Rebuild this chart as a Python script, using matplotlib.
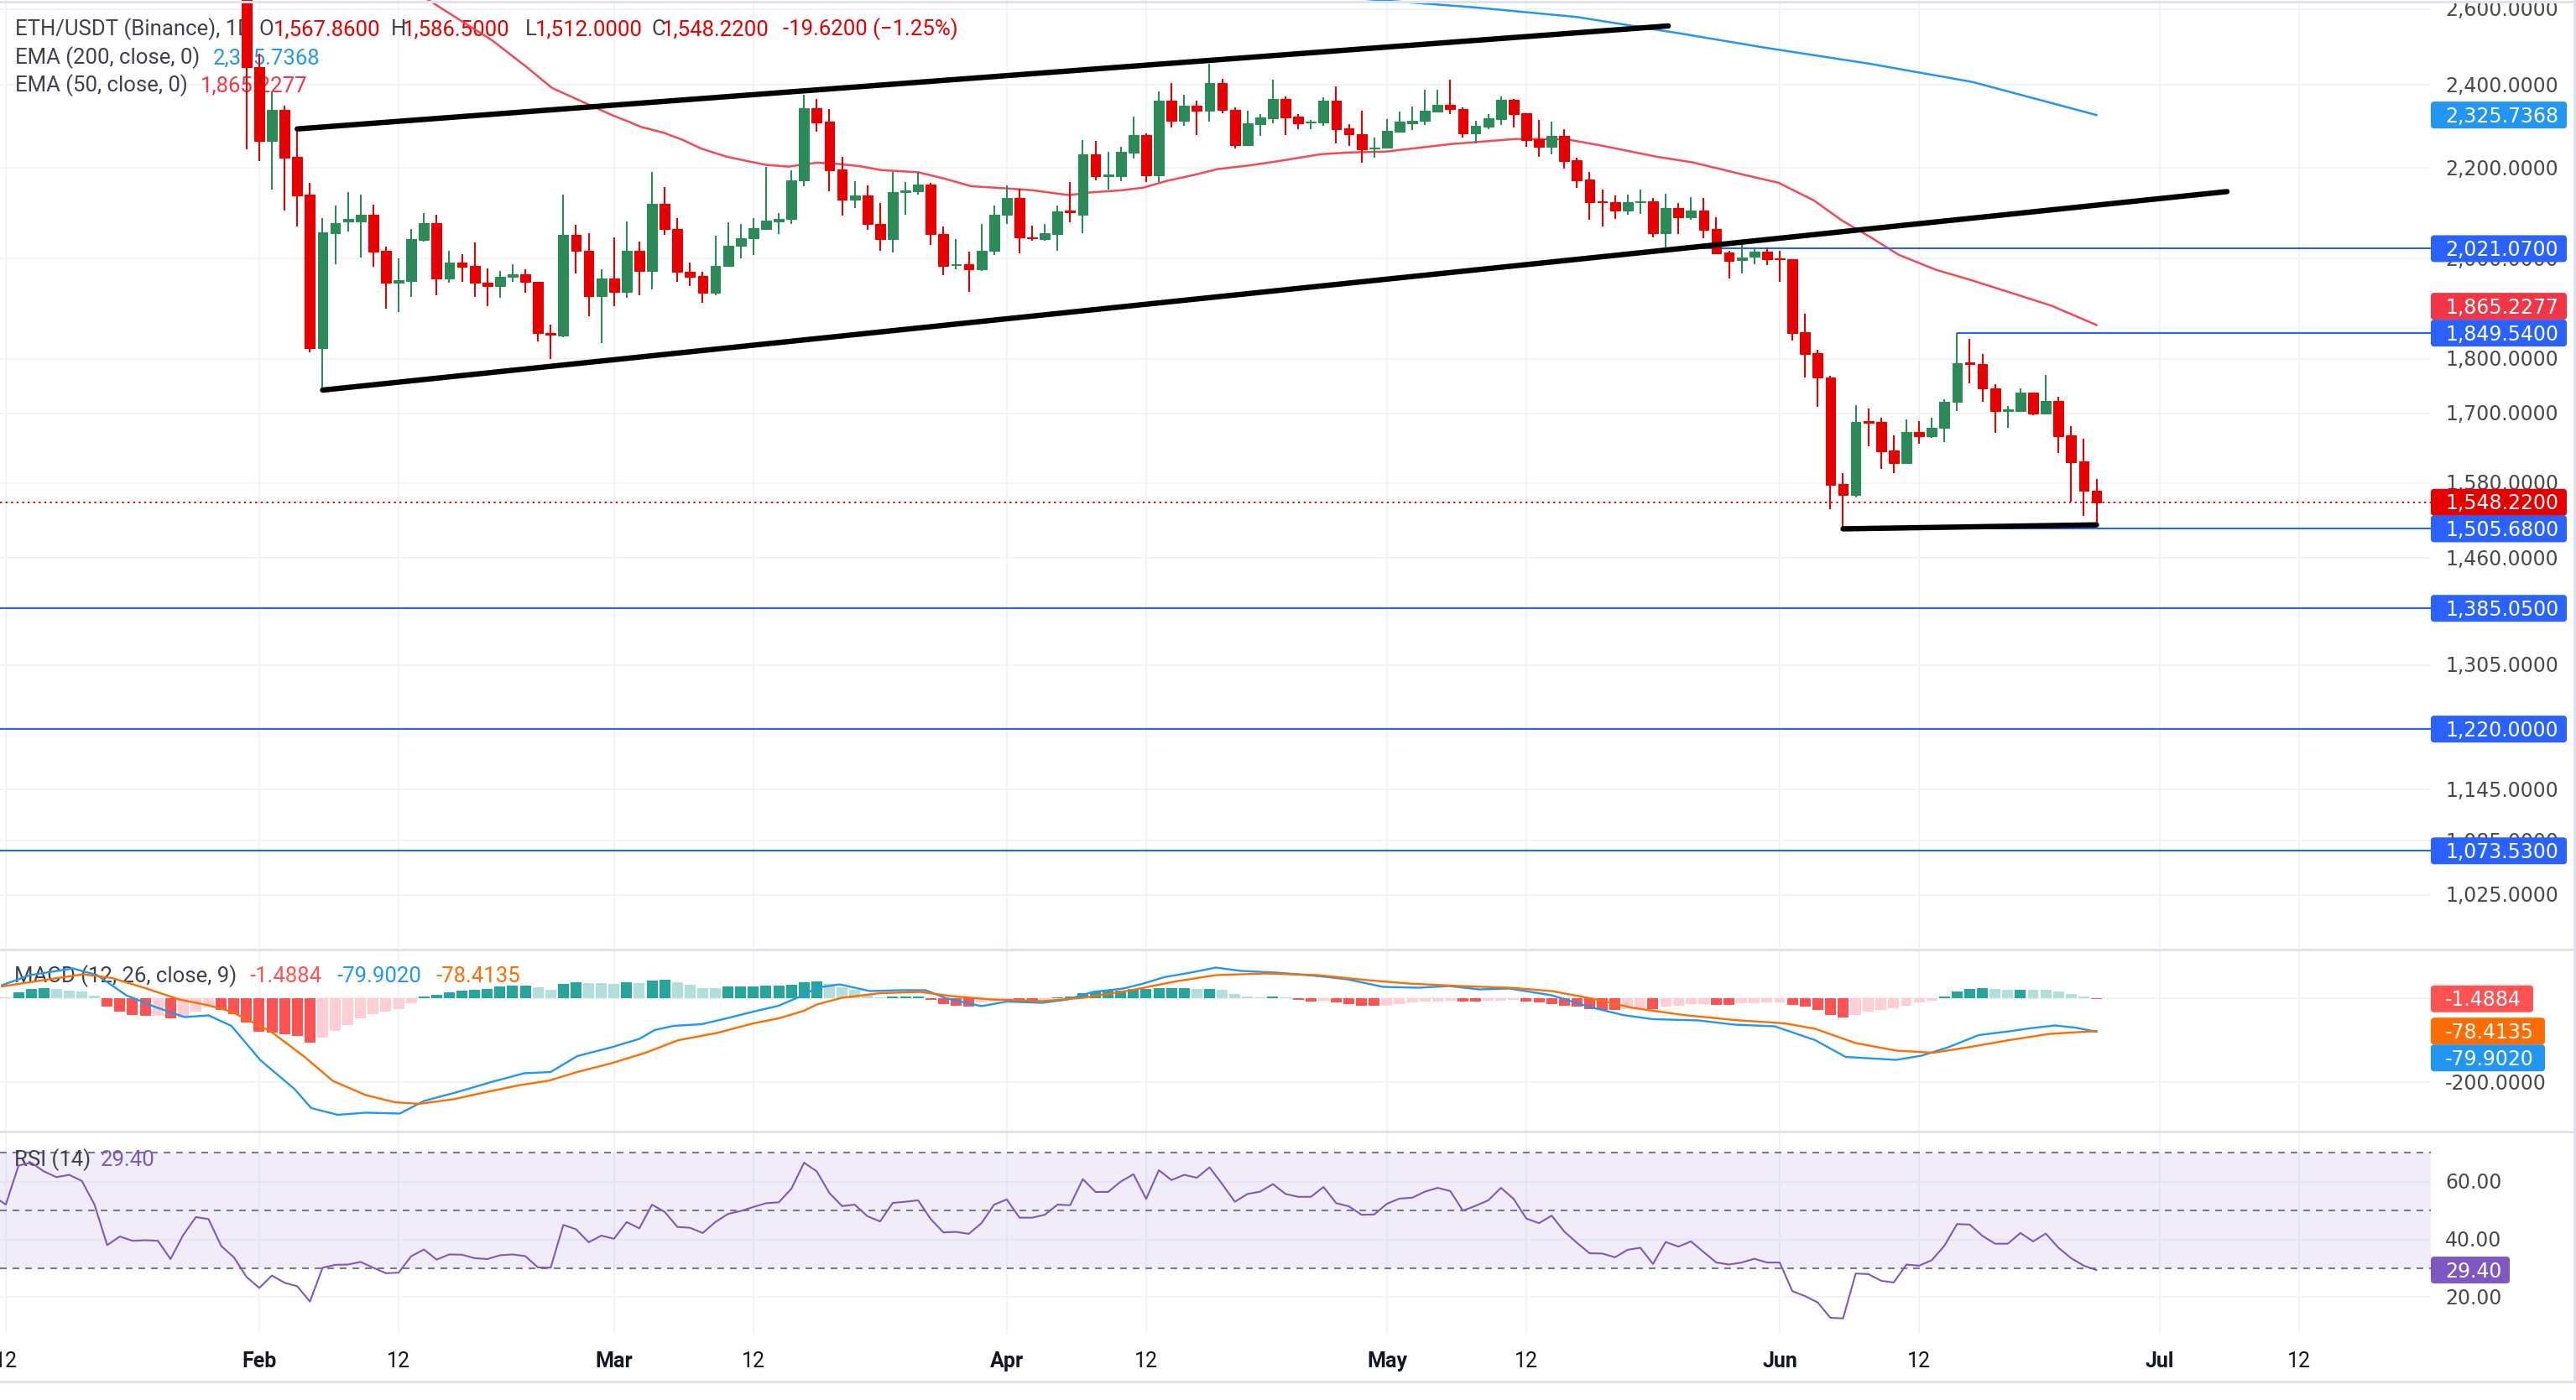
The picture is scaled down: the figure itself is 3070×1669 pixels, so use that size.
import numpy as np
import matplotlib
matplotlib.use("Agg")
import matplotlib.pyplot as plt
from matplotlib.patches import FancyBboxPatch
from matplotlib.lines import Line2D
from matplotlib.transforms import IdentityTransform

W, H, DPI = 3070, 1669, 100
PLOT_RIGHT = 2897  # px where the price scale begins

# ---------------- data (day index: Jan 1 = 0) ----------------
first_day = 30
opens = [2690, 2445, 2263, 2338, 2225, 2140, 1821, 2055, 2080, 2079,
         2095, 2017, 1950, 1954, 2039, 2076, 1959, 1991, 1984, 1950,
         1943, 1962, 1968, 1952, 1850, 1845, 2051, 2017, 1923, 1958,
         1931, 2016, 1975, 2119, 2064, 1972, 1964, 1930, 1985, 2027,
         2043, 2064, 2080, 2085, 2172, 2343, 2309, 2196, 2127, 2138,
         2075, 2041, 2144, 2146, 2161, 2053, 1986, 1988, 1977, 2016,
         2094, 2132, 2046, 2041, 2053, 2104, 2095, 2231, 2181, 2181,
         2235, 2277, 2183, 2361, 2312, 2348, 2337, 2406, 2339, 2253,
         2303, 2318, 2365, 2321, 2307, 2308, 2361, 2293, 2279, 2245,
         2247, 2286, 2305, 2311, 2334, 2351, 2340, 2282, 2297, 2316,
         2363, 2330, 2267, 2250, 2275, 2217, 2173, 2124, 2122, 2103,
         2122, 2124, 2054, 2109, 2089, 2103, 2063, 2013, 1997, 2004,
         2014, 2000, 1999, 1851, 1811, 1766, 1578, 1561, 1686, 1685,
         1635, 1614, 1667, 1659, 1674, 1720, 1794, 1791, 1745, 1704,
         1704, 1737, 1700, 1722, 1661, 1616, 1567.86]
highs = [2740, 2480, 2385, 2349, 2290, 2166, 2087, 2114, 2144, 2140,
         2116, 2025, 2000, 2063, 2098, 2094, 2017, 2010, 2035, 1980,
         1975, 1988, 1977, 1952, 1866, 2140, 2072, 2054, 1977, 2046,
         2080, 2036, 2191, 2156, 2087, 1991, 1973, 2048, 2078, 2074,
         2087, 2202, 2098, 2195, 2376, 2366, 2340, 2226, 2169, 2160,
         2120, 2191, 2167, 2191, 2166, 2068, 2041, 2014, 2074, 2114,
         2160, 2152, 2070, 2074, 2114, 2167, 2265, 2263, 2237, 2249,
         2322, 2281, 2385, 2405, 2376, 2361, 2454, 2415, 2344, 2336,
         2328, 2413, 2372, 2328, 2314, 2370, 2396, 2303, 2336, 2271,
         2316, 2334, 2346, 2389, 2389, 2413, 2344, 2312, 2328, 2372,
         2366, 2330, 2314, 2310, 2291, 2224, 2191, 2150, 2138, 2140,
         2150, 2132, 2142, 2120, 2134, 2132, 2088, 2016, 2035, 2021,
         2024, 2016, 1999, 1888, 1817, 1768, 1597, 1715, 1708, 1692,
         1661, 1689, 1686, 1692, 1726, 1849.54, 1838, 1810, 1753, 1713,
         1745, 1737, 1770, 1730, 1678, 1655, 1586.5]
lows = [2243, 2215, 2150, 2103, 2068, 1813, 1742, 1988, 2058, 2003,
        1983, 1898, 1891, 1921, 2036, 1924, 1950, 1951, 1921, 1902,
        1920, 1951, 1930, 1833, 1800, 1842, 1969, 1882, 1831, 1902,
        1919, 1924, 1937, 2050, 1951, 1943, 1910, 1924, 1985, 2001,
        2007, 2061, 2052, 2074, 2158, 2285, 2147, 2092, 2109, 2061,
        2017, 2013, 2095, 2139, 2029, 1965, 1977, 1932, 1974, 2007,
        2074, 2012, 2038, 2038, 2016, 2077, 2054, 2172, 2151, 2170,
        2222, 2168, 2168, 2295, 2299, 2277, 2309, 2331, 2246, 2251,
        2275, 2305, 2277, 2291, 2292, 2299, 2257, 2251, 2212, 2224,
        2247, 2286, 2289, 2301, 2334, 2328, 2272, 2258, 2291, 2302,
        2295, 2250, 2226, 2232, 2199, 2154, 2083, 2068, 2085, 2095,
        2096, 2046, 2021.07, 2053, 2083, 2044, 2010, 1958, 1969, 1988,
        1987, 1951, 1835, 1765, 1712, 1537, 1505.68, 1556, 1642, 1603,
        1596, 1614, 1647, 1656, 1650, 1704, 1754, 1720, 1665, 1674,
        1704, 1697, 1700, 1631, 1549, 1527, 1512]
closes = [2445, 2263, 2338, 2224, 2138, 1821, 2056, 2076, 2085, 2095,
          2015, 1950, 1956, 2041, 2076, 1959, 1991, 1983, 1950, 1943,
          1962, 1968, 1951, 1849, 1846, 2051, 2017, 1923, 1958, 1931,
          2016, 1975, 2119, 2063, 1972, 1963, 1930, 1985, 2028, 2044,
          2065, 2082, 2086, 2172, 2343, 2308, 2195, 2127, 2138, 2074,
          2041, 2144, 2148, 2161, 2053, 1984, 1989, 1977, 2016, 2094,
          2132, 2045, 2044, 2054, 2102, 2100, 2231, 2181, 2184, 2237,
          2277, 2183, 2361, 2312, 2348, 2337, 2406, 2338, 2254, 2305,
          2320, 2365, 2320, 2305, 2310, 2361, 2292, 2279, 2244, 2248,
          2287, 2309, 2312, 2336, 2351, 2340, 2282, 2299, 2317, 2363,
          2328, 2266, 2250, 2275, 2216, 2172, 2122, 2122, 2103, 2122,
          2125, 2054, 2109, 2089, 2103, 2062, 2012, 1996, 2002, 2014,
          1998, 1998, 1850, 1810, 1765, 1577, 1561, 1685, 1683, 1634,
          1614, 1667, 1659, 1675, 1720, 1792, 1790, 1745, 1704, 1707,
          1737, 1700, 1722, 1660, 1615, 1567.84, 1548.22]

ema50_days = [44.1, 49.4, 52.1, 54.1, 58.8, 60.2, 61.1, 62.9, 64.4, 65.9,
              67.9, 69.5, 71, 72.8, 73.7, 75, 76.4, 78.4, 80.1, 83,
              85, 87.2, 90.1, 92, 94.9, 96.6, 99.1, 100.8, 102.6, 104.8,
              106.6, 109.2, 111.5, 114.8, 117, 119.9, 125.1, 130.2, 134.2, 136.8,
              141.3, 144.1, 146.8, 148.2, 150.9, 153.7, 155.9, 158.2, 160.4, 163.3,
              165.9, 169.2, 172.5, 176]
ema50 = [2630, 2515, 2446, 2393, 2326, 2309, 2297, 2283, 2266, 2245,
         2226, 2216, 2207, 2203, 2207, 2212, 2210, 2204, 2195, 2190,
         2176, 2158, 2153, 2149, 2138, 2144, 2149, 2155, 2170, 2184,
         2197, 2206, 2216, 2232, 2236, 2238, 2256, 2268, 2267, 2253,
         2226, 2213, 2194, 2184, 2166, 2126, 2082, 2045, 2008, 1977,
         1957, 1930, 1903, 1865.2277]
ema200_days = [118, 127, 135, 143.3, 149.7, 158, 166.2, 176]
ema200 = [2628, 2604, 2578, 2533, 2497, 2455, 2408, 2325.7368]

upper_days, upper_vals = [34.0, 142.2], [2292, 2554]
lower_days, lower_vals = [36.0, 186.3], [1742, 2146]
floor_days, floor_vals = [156, 176], [1505.68, 1512.0]

levels = [2021.07, 1849.54, 1505.68, 1385.05, 1220.0, 1073.53]
level_from = [142, 165, 156, None, None, None]

macd_days = [10.7, 12.9, 16.3, 18.2, 20.5, 22.8, 25.1, 27, 28.8, 31.1,
             33.8, 35.1, 37.2, 39.4, 42.1, 44, 46.6, 49.3, 51.9, 54,
             56.1, 58.8, 61, 62.2, 63.7, 65.9, 67.9, 70, 72, 74,
             75, 76.8, 79.2, 81.6, 83.6, 85.2, 88, 90, 92.8, 94.8,
             96.8, 99.2, 100.8, 102.4, 104.5, 106.5, 108.5, 111.3, 114.5, 116.9,
             119.7, 122.5, 124.9, 127.3, 129.7, 133, 135.8, 138.6, 141, 144.6,
             147.4, 150.6, 153.8, 156.2, 160.2, 162.2, 164.3, 166.7, 169.1, 170.7,
             172.7, 174.3, 176]
macd = [31, 55, 71, 55, 7, -21, -45, -41, -66, -148,
        -217, -262, -278, -273, -275, -245, -224, -200, -179, -176,
        -138, -117, -97, -76, -66, -62, -48, -32, -18, 8,
        25, 33, 17, 19, 19, 0, -19, -8, -11, -3,
        15, 23, 35, 50, 61, 73, 65, 61, 53, 45,
        27, 25, 29, 21, 23, 7, -19, -40, -50, -53,
        -63, -67, -100, -140, -147, -137, -117, -88, -79, -72,
        -65, -70, -79.902]
signal_days = [10.7, 14.4, 17.1, 19.4, 22, 24.7, 27, 28.8, 31.9, 34.5,
               36.8, 39.4, 41.7, 43.6, 46.3, 48.9, 51.6, 53.8, 56.1, 58.8,
               61.4, 64.1, 67.1, 70, 72, 74, 75, 77, 80, 83.2,
               85.6, 88.8, 92.8, 96, 100, 103.3, 106.5, 110.5, 114.5, 118.5,
               121.7, 125.7, 129.7, 133, 136.2, 139.4, 143.4, 147.4, 151.4, 153.8,
               157, 160.2, 163.1, 165.9, 169.1, 172.3, 176]
signal = [28, 45, 57, 48, 24, -3, -17, -32, -79, -138,
          -197, -231, -248, -252, -241, -224, -207, -197, -176, -155,
          -131, -100, -83, -60, -48, -30, -15, 1, 12, 15,
          5, -3, -7, 1, 20, 40, 55, 59, 55, 43,
          35, 29, 25, 17, -1, -23, -40, -52, -60, -73,
          -107, -125, -130, -117, -100, -85, -78.4135]
hist_first = 11
hist = [2, 15, 22, 24, 22, 19, 16, 7, -19, -31,
        -39, -41, -41, -48, -45, -31, -21, -28, -38, -57,
        -79, -81, -85, -90, -106, -93, -78, -64, -47, -38,
        -32, -26, -12, 5, 8, 14, 19, 20, 22, 28,
        30, 30.5, 26, 21, 35, 39, 37, 36.5, 35, 38,
        37, 43, 43.5, 38, 32, 25, 24, 28, 28.5, 29,
        29.5, 30, 33, 38, 40, 34, 27, 21, 8, 3,
        3.5, 4, 4.5, -3, -13, -18, -20, -10, -8, -5,
        -7, -7.5, -3, 2, 4, 12, 17, 18, 18.5, 22,
        23, 23.2, 23.4, 23.6, 22, 23, 20, 10, 5, 2,
        4, 2, -3, -7, -5, -9, -13, -17, -18, -17,
        -13, -10, -8, -7, -5, -7, -7.5, -5, -5, -3,
        -7, -10, -13, -17, -20, -25, -27, -27.5, -25, -23,
        -25, -19, -17, -13, -13, -15, -15.5, -12, -11, -10,
        -10, -15, -20, -27, -40, -45, -40, -32, -27, -23,
        -17, -10, -5, 5, 17, 23, 25, 23, 20, 21,
        20, 19.5, 17, 10, 5, -1.4884]

rsi_first = 10
rsi = [55, 52, 65.5, 66.5, 63.5, 61.5, 62.3, 60.2, 52, 38,
       41, 39.5, 39.7, 39.5, 33.2, 41.5, 47.7, 47, 37.7, 33.8,
       27, 23.2, 27.5, 25, 23.8, 18.5, 30.2, 31.2, 31.3, 32.2,
       30.2, 28.3, 28.5, 34.2, 36.5, 33, 34.8, 34.7, 33.5, 33.2,
       34.5, 34.8, 34.2, 30.3, 30.2, 45, 43.5, 39, 41.3, 40.2,
       46, 43.8, 52, 49.5, 44.3, 44, 42.2, 46, 48.8, 49.8,
       51.2, 52.5, 52.8, 57.5, 66.5, 63.5, 56, 51.5, 52, 48,
       46.2, 52.6, 53, 53.5, 47, 42.4, 42.6, 41.9, 45.6, 52,
       53.8, 47.5, 47.5, 48.5, 52, 51.8, 60.8, 56.4, 56.4, 60,
       62.5, 54, 63.9, 60.5, 62.3, 61.3, 64.9, 59.1, 53, 55.7,
       56.5, 59.1, 55.7, 54.7, 54.7, 58.1, 52.5, 51.4, 48.5, 48.6,
       52.3, 54.1, 54.4, 56.5, 57.8, 56.7, 49.9, 51.6, 53.5, 57.8,
       54, 47.2, 45.6, 48.2, 42.7, 38.8, 35.2, 35.1, 33.8, 36.4,
       37.1, 31.5, 39.1, 37.5, 39.3, 35.6, 32, 31.3, 32, 33.3,
       32, 32, 22.1, 20.4, 18.2, 12.9, 12.7, 28.2, 28, 25.7,
       25.1, 31.3, 30.9, 32.8, 37.8, 45.3, 45.1, 41.2, 38.5, 38.5,
       42.2, 39.3, 42, 37.1, 33.5, 30.9, 29.4]

date_ticks = [11, 31, 42, 59, 70, 90, 101, 120, 131, 151, 162, 181, 192]
date_labels = ["12", "Feb", "12", "Mar", "12", "Apr", "12", "May", "12",
               "Jun", "12", "Jul", "12"]
price_ticks = [2600, 2400, 2200, 2000, 1800, 1700, 1580, 1460, 1305, 1145, 1085, 1025]
rsi_ticks = [60, 40, 20]

# ---------------- styling ----------------
GREEN = "#2b8a57"
RED = "#e60000"
EMA50_C = "#f23645"
EMA200_C = "#2196f3"
LEVEL_C = "#2962ff"
GRID = "#f0f3fa"
SEP = "#e0e3eb"
TXT = "#3f424b"
AXTXT = "#4a4a4a"
LEG_FONT = "Roboto"
AX_FONT = "DejaVu Sans"

fig = plt.figure(figsize=(W / DPI, H / DPI), dpi=DPI)
fig.patch.set_facecolor("white")
XLIM = (10.54, 202.39)


def add_panel(top, bottom):
    a = fig.add_axes([0, 1 - bottom / H, PLOT_RIGHT / W, (bottom - top) / H])
    a.set_axis_off()
    a.set_xlim(*XLIM)
    return a


ax = add_panel(0, 1131)
ax.set_yscale("log")
ax.set_ylim(968.6, 2624.5)
axm = add_panel(1133, 1348)
axm.set_ylim(-316, 114)
axr = add_panel(1350, 1590)
axr.set_ylim(7.39, 76.96)


def put(target, x, y, s, size=17, color=AXTXT, family=AX_FONT, weight="normal",
        ha="left", zorder=3):
    # x, y in pixels from the top-left; y is the visual middle of the capitals
    base = H - y - 0.36 * size * DPI / 72
    target.text(x, base, s, fontsize=size, color=color, family=family,
                fontweight=weight, ha=ha, va="baseline",
                transform=IdentityTransform(), zorder=zorder)


def disp_y(a, v):
    return a.transData.transform((XLIM[0], v))[1]


# grid
for a in (ax, axm, axr):
    for d in date_ticks:
        a.axvline(d, color=GRID, lw=1.4, zorder=0)
for v in price_ticks:
    ax.axhline(v, color=GRID, lw=1.4, zorder=0)
for v in (0, -200):
    axm.axhline(v, color=GRID, lw=1.4, zorder=0)
for v in rsi_ticks:
    axr.axhline(v, color=GRID, lw=1.4, zorder=0)

# ---------------- price panel ----------------
days = np.arange(first_day, first_day + len(opens))
o, hi, lo, c = (np.array(v, dtype=float) for v in (opens, highs, lows, closes))
col = np.where(c >= o, GREEN, RED)
ax.vlines(days, lo, hi, colors=col, lw=1.5, zorder=3)
bot = np.minimum(o, c)
ax.bar(days, np.maximum(o, c) - bot, bottom=bot, width=0.78, color=col,
       edgecolor=col, lw=0.8, zorder=4)

ax.plot(ema50_days, ema50, color=EMA50_C, lw=1.8, alpha=0.9, zorder=2)
ax.plot(ema200_days, ema200, color=EMA200_C, lw=1.8, zorder=2)

for lv, start in zip(levels, level_from):
    ax.hlines(lv, XLIM[0] if start is None else start, XLIM[1], color=LEVEL_C,
              lw=1.5, zorder=2)
ax.axhline(closes[-1], color=RED, lw=1.4, ls=(0, (1.2, 2.2)), zorder=2)

for dd, vv in ((upper_days, upper_vals), (lower_days, lower_vals), (floor_days, floor_vals)):
    ax.plot(dd, vv, color="black", lw=4.6, solid_capstyle="round", zorder=5)

# ---------------- MACD panel ----------------
hd = np.arange(hist_first, hist_first + len(hist))
hv = np.array(hist, dtype=float)
prev = np.r_[hv[0] + 1, hv[:-1]]
hcol = np.where(hv >= 0, np.where(hv >= prev, "#26a69a", "#b2dfdb"),
                np.where(hv < prev, "#ff5252", "#ffcdd2"))
axm.bar(hd, hv, width=0.86, color=hcol, zorder=2)
axm.plot(macd_days, macd, color="#2196f3", lw=1.7, zorder=3)
axm.plot(signal_days, signal, color="#ff6d00", lw=1.7, zorder=3)

# ---------------- RSI panel ----------------
axr.axhspan(30, 70, color="#7e57c2", alpha=0.1, lw=0, zorder=0)
for lvl in (70, 50, 30):
    axr.axhline(lvl, color="#787b86", lw=1.5, ls=(0, (3.8, 3.4)), zorder=1)
rd = np.arange(rsi_first, rsi_first + len(rsi))
axr.plot(rd, rsi, color="#7e57c2", lw=1.5, zorder=3)

# ---------------- legends ----------------
leg_rows = [
    (33, [(18, "ETH/USDT (Binance), 1D", TXT), (309, "O", TXT), (326, "1,567.8600", RED),
          (466, "H", TXT), (480, "1,586.5000", RED), (626, "L", TXT), (638, "1,512.0000", RED),
          (777, "C", TXT), (789, "1,548.2200", RED), (933, "-19.6200 (\u22121.25%)", RED)]),
    (67, [(18, "EMA (200, close, 0)", TXT), (254, "2,325.7368", EMA200_C)]),
    (100, [(18, "EMA (50, close, 0)", TXT), (239, "1,865.2277", EMA50_C)]),
]
for y, parts in leg_rows:
    for x, s, color in parts:
        put(ax, x, y, s, size=18.5, color=color, family=LEG_FONT, zorder=1)
for x, s, color in [(17, "MACD (12, 26, close, 9)", TXT), (298, "-1.4884", "#ff5252"),
                    (402, "-79.9020", "#2196f3"), (519, "-78.4135", "#ff6d00")]:
    put(axm, x, 1162, s, size=18.5, color=color, family=LEG_FONT, zorder=1)
for x, s, color in [(17, "RSI (14)", TXT), (120, "29.40", "#7e57c2")]:
    put(axr, x, 1381, s, size=18.5, color=color, family=LEG_FONT, zorder=1)

# ---------------- right price scale ----------------
for v in price_ticks:
    put(fig, 2914, H - disp_y(ax, v), f"{v:,.4f}")
put(fig, 2914, H - disp_y(axm, -200), "-200.0000")
for v in rsi_ticks:
    put(fig, 2914, H - disp_y(axr, v), f"{v:.2f}")

BOX_H = 32


def tag(yd, s, color, right):
    fig.add_artist(FancyBboxPatch((PLOT_RIGHT, yd - BOX_H / 2), right - PLOT_RIGHT, BOX_H,
                                  boxstyle="round,pad=0,rounding_size=4", fc=color,
                                  ec="none", transform=IdentityTransform(), zorder=5))
    put(fig, 2914, H - yd, s, color="white", zorder=6)


main_tags = [(2325.7368, EMA200_C), (2021.07, LEVEL_C), (1849.54, LEVEL_C),
             (1548.22, RED), (1505.68, LEVEL_C), (1385.05, LEVEL_C),
             (1220.0, LEVEL_C), (1073.53, LEVEL_C)]
for v, color in main_tags:
    tag(disp_y(ax, v), f"{v:,.4f}", color, 3059)
# EMA50 label sits on top of the 1,849.54 label it would overlap
tag(max(disp_y(ax, 1865.2277), disp_y(ax, 1849.54) + BOX_H), "1,865.2277", EMA50_C, 3059)

y_sig = disp_y(axm, -78.4135)
tag(disp_y(axm, -1.4884), "-1.4884", "#ff5252", 3019)
tag(y_sig, "-78.4135", "#ff6d00", 3033)
tag(min(disp_y(axm, -79.902), y_sig - BOX_H), "-79.9020", "#2196f3", 3033)
tag(disp_y(axr, 29.40), "29.40", "#7e57c2", 2991)

# ---------------- time axis ----------------
for d, s in zip(date_ticks, date_labels):
    xd = axr.transData.transform((d, 0))[0]
    put(fig, xd, 1621, s, size=18, color="#131722", family=LEG_FONT,
        weight="bold" if not s.isdigit() else "normal", ha="center")

# panel separators and frame
for y in (1.5, 1132, 1349, 1647):
    fig.add_artist(Line2D([0, W], [H - y, H - y], transform=IdentityTransform(),
                          color=SEP, lw=2.2, zorder=4))
fig.add_artist(Line2D([3068, 3068], [H - 1647, H], transform=IdentityTransform(),
                      color=SEP, lw=2.2, zorder=4))

fig.savefig("out.png", dpi=DPI, facecolor="white")
